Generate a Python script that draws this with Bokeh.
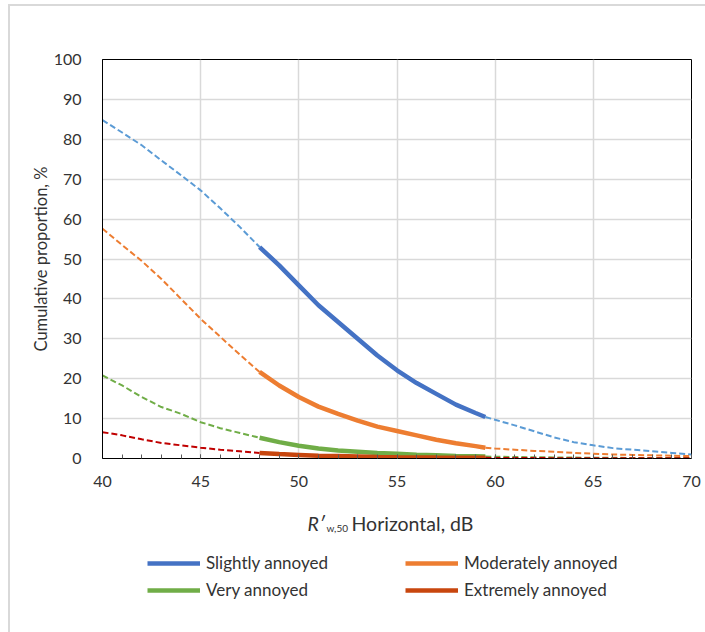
from bokeh.plotting import figure
from bokeh.models import Range1d, FixedTicker, Label, Legend, LegendItem
from bokeh.layouts import column
from bokeh.embed import file_html
from bokeh.resources import INLINE

# ---- data ----
x_left = [40, 41, 42, 43, 44, 45, 46, 47, 48]
x_mid = [48, 49, 50, 51, 52, 53, 54, 55, 56, 57, 58, 59, 59.5]
x_right = [59.5, 60, 61, 62, 63, 64, 65, 66, 67, 68, 69, 70]

slight_left = [84.8, 81.7, 78.5, 74.7, 71.0, 67.2, 62.7, 58.0, 53.0]
slight_mid = [53.0, 48.4, 43.4, 38.4, 34.2, 30.0, 25.8, 22.1, 18.9, 16.2, 13.5, 11.4, 10.4]
slight_right = [10.4, 9.7, 8.3, 6.8, 5.3, 4.1, 3.3, 2.6, 2.2, 1.8, 1.4, 1.0]

moder_left = [57.6, 53.5, 49.5, 45.0, 40.0, 35.0, 30.5, 26.0, 21.7]
moder_mid = [21.7, 18.3, 15.4, 13.0, 11.2, 9.5, 8.0, 6.9, 5.8, 4.7, 3.8, 3.1, 2.7]
moder_right = [2.7, 2.5, 2.2, 1.9, 1.7, 1.4, 1.2, 1.0, 0.9, 0.8, 0.7, 0.6]

very_left = [20.8, 18.3, 15.4, 12.9, 11.2, 9.1, 7.6, 6.4, 5.2]
very_mid = [5.2, 4.1, 3.2, 2.5, 2.0, 1.7, 1.4, 1.2, 0.95, 0.8, 0.65, 0.55, 0.5]
very_right = [0.5, 0.45, 0.38, 0.32, 0.27, 0.23, 0.2, 0.17, 0.15, 0.13, 0.11, 0.1]

extr_left = [6.6, 5.8, 4.8, 3.9, 3.3, 2.7, 2.2, 1.8, 1.4]
extr_mid = [1.4, 1.1, 0.9, 0.7, 0.6, 0.5, 0.4, 0.33, 0.28, 0.23, 0.2, 0.17, 0.16]
extr_right = [0.16, 0.14, 0.12, 0.1, 0.09, 0.08, 0.07, 0.06, 0.05, 0.05, 0.04, 0.04]

x_ticks = [40, 45, 50, 55, 60, 65, 70]
y_ticks = [0, 10, 20, 30, 40, 50, 60, 70, 80, 90, 100]

series = [
    ("Slightly annoyed", slight_left, slight_mid, slight_right, "#4472C4", "#5B9BD5"),
    ("Moderately annoyed", moder_left, moder_mid, moder_right, "#ED7D31", "#ED7D31"),
    ("Very annoyed", very_left, very_mid, very_right, "#70AD47", "#70AD47"),
    ("Extremely annoyed", extr_left, extr_mid, extr_right, "#C8460E", "#C00000"),
]

FONT = "Lato"
TXT = "#333333"

# ---------------- main chart ----------------
p = figure(width=695, height=494, output_backend="svg", toolbar_location=None,
           x_range=Range1d(40, 70), y_range=Range1d(0, 100),
           min_border_left=92, min_border_right=14, min_border_top=53, min_border_bottom=42)
p.outline_line_color = "black"
p.outline_line_width = 1
p.background_fill_color = "white"
p.border_fill_color = "white"

p.xaxis.ticker = FixedTicker(ticks=x_ticks, minor_ticks=list(range(40, 71)))
p.yaxis.ticker = FixedTicker(ticks=y_ticks)
for ax in (p.xaxis[0], p.yaxis[0]):
    ax.axis_line_color = "black"
    ax.axis_line_width = 1
    ax.major_label_text_font = FONT
    ax.major_label_text_font_size = "16px"
    ax.major_label_text_color = TXT
p.xaxis.major_tick_in = 4
p.xaxis.major_tick_out = 0
p.xaxis.minor_tick_in = 4
p.xaxis.minor_tick_out = 0
p.xaxis.major_tick_line_color = "#595959"
p.xaxis.minor_tick_line_color = "#595959"
p.xaxis.major_label_standoff = 17
p.yaxis.major_tick_line_color = None
p.yaxis.minor_tick_line_color = None
p.yaxis.major_label_standoff = 15

p.yaxis.axis_label = "Cumulative proportion, %"
p.yaxis.axis_label_text_font = FONT
p.yaxis.axis_label_text_font_size = "16.5px"
p.yaxis.axis_label_text_font_style = "normal"
p.yaxis.axis_label_text_color = TXT
p.yaxis.axis_label_standoff = 0

p.xgrid.grid_line_color = "#D9D9D9"
p.ygrid.grid_line_color = "#D9D9D9"
p.xgrid.grid_line_width = 1.5
p.ygrid.grid_line_width = 1.5

for name, yl, ym, yr, c_solid, c_dash in series:
    p.line(x_left, yl, line_color=c_dash, line_width=2, line_dash="6 3")
    p.line(x_right, yr, line_color=c_dash, line_width=2, line_dash="6 3")
    p.line(x_mid, ym, line_color=c_solid, line_width=4.5)

# ---------------- bottom panel: x title + legend ----------------
# (its frame is aligned with the main chart's frame, so screen x is measured from x = 40)
q = figure(width=695, height=132, output_backend="svg", toolbar_location=None,
           x_range=Range1d(40, 70), y_range=Range1d(0, 100),
           x_axis_type=None, y_axis_type=None,
           min_border=0, min_border_left=0, min_border_right=0,
           min_border_top=0, min_border_bottom=0)
q.outline_line_color = None
q.xgrid.visible = False
q.ygrid.visible = False
q.background_fill_color = "white"
q.border_fill_color = "white"

q.add_layout(Label(x=205, y=109, x_units="screen", y_units="screen", text="R\u2032",
                   text_font=FONT, text_font_size="19.5px", text_font_style="italic",
                   text_color=TXT, text_baseline="alphabetic"))
q.add_layout(Label(x=224, y=105, x_units="screen", y_units="screen", text="w,50",
                   text_font=FONT, text_font_size="10px",
                   text_color=TXT, text_baseline="alphabetic"))
q.add_layout(Label(x=249, y=109, x_units="screen", y_units="screen", text="Horizontal, dB",
                   text_font=FONT, text_font_size="19.5px",
                   text_color=TXT, text_baseline="alphabetic"))

positions = [(45, 59), (303, 59), (45, 32), (303, 32)]
for (name, yl, ym, yr, c_solid, c_dash), loc in zip(series, positions):
    # hidden copy of the solid segment: only supplies the legend swatch
    r = q.line(x_mid, ym, line_color=c_solid, line_width=4.5, visible=False)
    lg = Legend(items=[LegendItem(label=name, renderers=[r])], location=loc,
                glyph_width=53, glyph_height=20, label_height=20, label_standoff=6,
                padding=0, margin=0, spacing=0,
                border_line_alpha=0, background_fill_alpha=0, inactive_fill_alpha=0,
                label_text_font=FONT, label_text_font_size="17px", label_text_color=TXT)
    q.add_layout(lg)

layout = column(p, q, spacing=0)
layout.styles = {"margin-left": "8px", "margin-top": "4px",
                 "border-left": "2px solid #D9D9D9", "border-top": "2px solid #D9D9D9"}

open("out.html", "w").write(file_html(layout, INLINE))
